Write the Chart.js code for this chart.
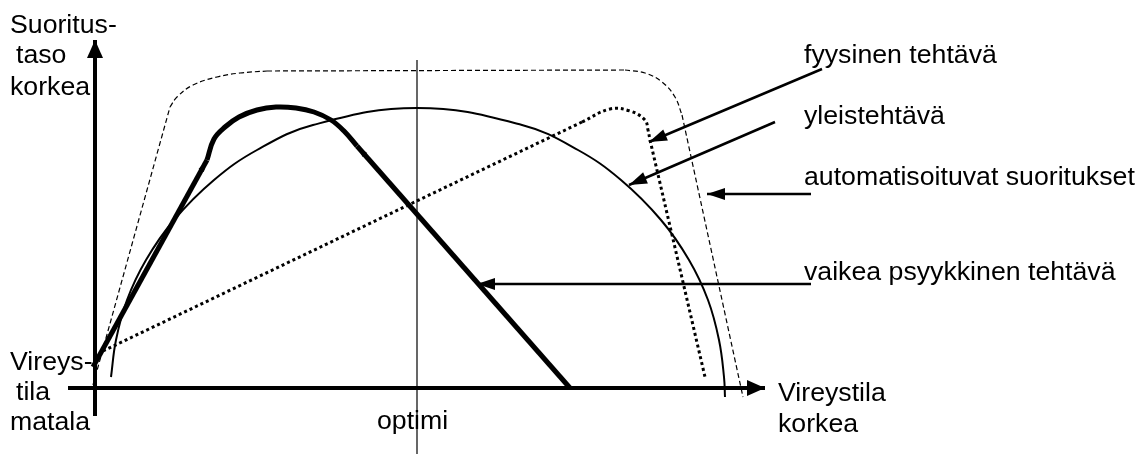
<!DOCTYPE html>
<html>
<head>
<meta charset="utf-8">
<script src="https://cdn.jsdelivr.net/npm/chart.js@4/dist/chart.umd.min.js"></script>
<style>
html,body{margin:0;padding:0;background:#fff;}
#c{display:block;}
</style>
</head>
<body>
<canvas id="c" width="1144" height="454"></canvas>
<script>
// Diagram units: x = vireystila (arousal), y = suoritustaso (performance); origin at axes crossing.
const generalTask = [
  {x:16,y:11},{x:21,y:48},{x:32,y:88},{x:51,y:128},{x:79,y:168},{x:119,y:208},
  {x:162,y:238},{x:218,y:263},{x:322,y:280},{x:427,y:263},{x:483,y:238},
  {x:526,y:208},{x:566,y:168},{x:594,y:128},{x:613,y:88},{x:624,y:48},{x:629,y:11},{x:630,y:-9}
];
const difficultRise = [{x:-2,y:21},{x:112,y:228}];
const difficultPeak = [
  {x:112,y:228},{x:119,y:249},{x:130,y:261},{x:144,y:271},{x:162,y:278},{x:181,y:281},
  {x:201,y:280},{x:219,y:276},{x:236,y:268},{x:249,y:257},{x:262,y:242}
];
const difficultFall = [{x:262,y:242},{x:475,y:0}];
const physicalRise = [{x:8,y:37},{x:487,y:266}];
const physicalBend = [{x:487,y:266},{x:515,y:279},{x:535,y:277},{x:550,y:268},{x:553,y:258},{x:555,y:248}];
const physicalFall = [{x:555,y:248},{x:610,y:11}];
const automatedRise = [{x:-2,y:3},{x:75,y:281}];
const automatedBendLeft = [{x:75,y:281},{x:82,y:291},{x:98,y:303},{x:122,y:311},{x:145,y:315},{x:172,y:317}];
const automatedPlateau = [{x:172,y:317},{x:530,y:318}];
const automatedBendRight = [{x:530,y:318},{x:550,y:315},{x:567,y:306},{x:580,y:291},{x:587,y:273}];
const automatedFall = [{x:587,y:273},{x:648,y:-9}];
const axisX = [{x:-27,y:0},{x:670,y:0}];
const axisY = [{x:0,y:-28},{x:0,y:348}];
const optimumLine = [{x:322,y:-66},{x:322,y:328}];
const pointerPhysical = [{x:727,y:319},{x:554,y:246}];
const pointerGeneral = [{x:680,y:266},{x:534,y:203}];
const pointerAutomated = [{x:716,y:194},{x:612,y:194}];
const pointerDifficult = [{x:716,y:104},{x:382,y:104}];
const labelTexts = ['Suoritus-','taso','korkea','Vireys-','tila','matala','optimi','Vireystila','korkea',
  'fyysinen tehtävä','yleistehtävä','automatisoituvat suoritukset','vaikea psyykkinen tehtävä'];
const labelAnchors = [
  {x:-85,y:355},{x:-79,y:325},{x:-85,y:293},{x:-85,y:18},{x:-79,y:-12},{x:-85,y:-42},
  {x:282,y:-41},{x:683,y:-13},{x:683,y:-44},{x:709,y:325},{x:709,y:264},{x:709,y:203},{x:709,y:108}
];

function ds(data, opts){
  return Object.assign({data:data, showLine:true, borderColor:'#000', backgroundColor:'#000',
    pointRadius:0, pointHoverRadius:0, borderWidth:2, tension:0, fill:false, clip:false}, opts||{});
}

function drawHead(ctx, x1, y1, x2, y2, L, W){
  const a = Math.atan2(y2-y1, x2-x1);
  ctx.beginPath();
  ctx.moveTo(x2,y2);
  ctx.lineTo(x2 - L*Math.cos(a) + W*Math.sin(a), y2 - L*Math.sin(a) - W*Math.cos(a));
  ctx.lineTo(x2 - L*Math.cos(a) - W*Math.sin(a), y2 - L*Math.sin(a) + W*Math.cos(a));
  ctx.closePath();
  ctx.fill();
}

const arrowPlugin = {
  id:'arrows',
  afterDatasetsDraw(chart){
    const ctx = chart.ctx, xs = chart.scales.x, ys = chart.scales.y;
    ctx.save();
    ctx.fillStyle = '#000';
    chart.data.datasets.forEach(d=>{
      const n = d.data.length;
      const px = p => [xs.getPixelForValue(p.x), ys.getPixelForValue(p.y)];
      if(d.arrow){
        const [x1,y1] = px(d.data[n-2]), [x2,y2] = px(d.data[n-1]);
        drawHead(ctx, x1, y1, x2, y2, d.arrow.len, d.arrow.half);
      }
      if(d.arrowStart){
        const [x1,y1] = px(d.data[1]), [x2,y2] = px(d.data[0]);
        drawHead(ctx, x1, y1, x2, y2, d.arrowStart.len, d.arrowStart.half);
      }
    });
    ctx.restore();
  }
};
const labelPlugin = {
  id:'labels',
  afterDraw(chart){
    const ctx = chart.ctx, xs = chart.scales.x, ys = chart.scales.y;
    ctx.save();
    ctx.fillStyle = '#000';
    ctx.font = '26.7px "Liberation Sans", Arial, sans-serif';
    ctx.textBaseline = 'alphabetic';
    ctx.textAlign = 'left';
    labelTexts.forEach((t,i)=>{
      ctx.fillText(t, xs.getPixelForValue(labelAnchors[i].x), ys.getPixelForValue(labelAnchors[i].y));
    });
    ctx.restore();
  }
};

new Chart(document.getElementById('c'), {
  type:'scatter',
  data:{datasets:[
    ds(optimumLine,{borderWidth:1.2}),
    ds(generalTask,{borderWidth:2,tension:0.4}),
    ds(automatedRise,{borderWidth:1.2,borderDash:[5,3]}),
    ds(automatedBendLeft,{borderWidth:1.2,borderDash:[5,3],tension:0.4}),
    ds(automatedPlateau,{borderWidth:1.2,borderDash:[5,3]}),
    ds(automatedBendRight,{borderWidth:1.2,borderDash:[5,3],tension:0.4}),
    ds(automatedFall,{borderWidth:1.2,borderDash:[5,3]}),
    ds(physicalRise,{borderWidth:3,borderDash:[3,3]}),
    ds(physicalBend,{borderWidth:3,borderDash:[3,3],tension:0.4}),
    ds(physicalFall,{borderWidth:3,borderDash:[3,3]}),
    ds(difficultRise,{borderWidth:5,arrow:{len:12,half:3}}),
    ds(difficultPeak,{borderWidth:5,tension:0.4}),
    ds(difficultFall,{borderWidth:5,arrowStart:{len:12,half:3}}),
    ds(axisX,{borderWidth:4,arrow:{len:18,half:8}}),
    ds(axisY,{borderWidth:4,arrow:{len:18,half:8}}),
    ds(pointerPhysical,{borderWidth:2.5,arrow:{len:18,half:6}}),
    ds(pointerGeneral,{borderWidth:2.5,arrow:{len:18,half:6}}),
    ds(pointerAutomated,{borderWidth:2.5,arrow:{len:18,half:6}}),
    ds(pointerDifficult,{borderWidth:2.5,arrow:{len:18,half:6}})
  ]},
  options:{
    responsive:false, animation:false, events:[],
    layout:{padding:0},
    plugins:{legend:{display:false},tooltip:{enabled:false}},
    scales:{
      x:{type:'linear',min:-95,max:1049,display:false},
      y:{type:'linear',min:-66,max:388,display:false}
    }
  },
  plugins:[arrowPlugin,labelPlugin]
});
</script>
</body>
</html>
